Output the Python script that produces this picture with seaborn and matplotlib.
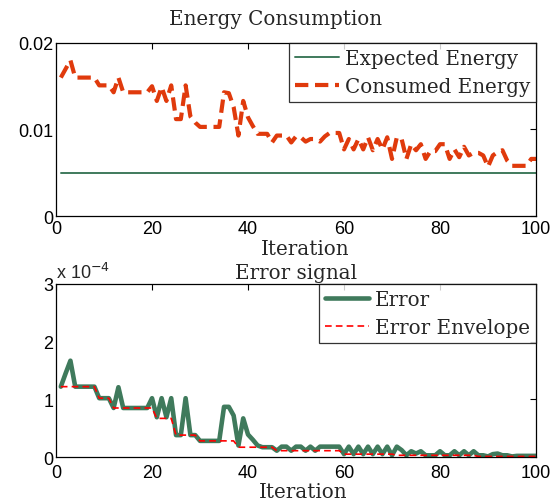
import numpy as np
import pandas as pd
import seaborn as sns
import matplotlib
matplotlib.use("Agg")
import matplotlib.pyplot as plt

iterations = list(range(1, 101))

expected_energy = [0.005] * 100

consumed_energy = [
    0.0160, 0.0170, 0.0180, 0.0160, 0.0160, 0.0160, 0.0160, 0.0160, 0.0151, 0.0151,
    0.0151, 0.0143, 0.0160, 0.0143, 0.0143, 0.0143, 0.0143, 0.0143, 0.0143, 0.0150,
    0.0133, 0.0149, 0.0133, 0.0151, 0.0112, 0.0112, 0.0151, 0.0115, 0.0108, 0.0103,
    0.0103, 0.0103, 0.0103, 0.0103, 0.0143, 0.0142, 0.0126, 0.0093, 0.0133, 0.0114,
    0.0104, 0.0095, 0.0095, 0.0095, 0.0085, 0.0093, 0.0093, 0.0093, 0.0085, 0.0092,
    0.0091, 0.0086, 0.0089, 0.0089, 0.0086, 0.0092, 0.0096, 0.0096, 0.0096, 0.0077,
    0.0089, 0.0077, 0.0089, 0.0077, 0.0091, 0.0076, 0.0089, 0.0077, 0.0091, 0.0066,
    0.0091, 0.0089, 0.0066, 0.0083, 0.0076, 0.0083, 0.0066, 0.0075, 0.0075, 0.0083,
    0.0083, 0.0066, 0.0077, 0.0068, 0.0080, 0.0070, 0.0073, 0.0073, 0.0070, 0.0057,
    0.0070, 0.0074, 0.0076, 0.0064, 0.0058, 0.0058, 0.0058, 0.0058, 0.0066, 0.0066,
]

# error values in units of 1e-4
error_x1e4 = [
    1.22, 1.45, 1.67, 1.22, 1.22, 1.22, 1.22, 1.22, 1.02, 1.02,
    1.02, 0.85, 1.21, 0.85, 0.85, 0.85, 0.85, 0.85, 0.85, 1.02,
    0.69, 1.02, 0.69, 1.02, 0.38, 0.38, 1.02, 0.38, 0.38, 0.28,
    0.28, 0.28, 0.28, 0.28, 0.87, 0.87, 0.72, 0.20, 0.67, 0.39,
    0.30, 0.20, 0.17, 0.17, 0.17, 0.11, 0.18, 0.18, 0.11, 0.18,
    0.18, 0.11, 0.18, 0.11, 0.18, 0.18, 0.18, 0.18, 0.18, 0.05,
    0.18, 0.05, 0.18, 0.05, 0.18, 0.05, 0.18, 0.05, 0.18, 0.03,
    0.18, 0.12, 0.03, 0.10, 0.06, 0.10, 0.03, 0.03, 0.03, 0.10,
    0.03, 0.03, 0.10, 0.03, 0.10, 0.03, 0.10, 0.03, 0.03, 0.01,
    0.05, 0.06, 0.03, 0.03, 0.01, 0.02, 0.02, 0.02, 0.02, 0.02,
]

envelope_x1e4 = (
    [1.22] * 8 + [1.02] * 3 + [0.85] * 9 + [0.67] * 4 + [0.38] * 5 +
    [0.28] * 8 + [0.17] * 8 + [0.11] * 14 + [0.05] * 11 + [0.03] * 17 + [0.01] * 13
)

energy_xticks = [0, 20, 40, 60, 80, 100]
energy_yticks = [0, 0.01, 0.02]
energy_yticklabels = ["0", "0.01", "0.02"]
error_yticks = [0, 1, 2, 3]

sns.set_style("white")
plt.rcParams["font.family"] = ["Liberation Sans", "DejaVu Sans"]

serif = "DejaVu Serif"
green = "#3f7a5c"
orange = "#e03a0c"
fs = 14.3

fig = plt.figure(figsize=(5.53, 5.02), dpi=100)
ax1 = fig.add_axes([0.1013, 0.5677, 0.8680, 0.3447])
ax2 = fig.add_axes([0.1013, 0.0876, 0.8680, 0.3447])

df1 = pd.DataFrame({"it": iterations, "exp": expected_energy, "con": consumed_energy})
sns.lineplot(data=df1, x="it", y="exp", ax=ax1, color=green, lw=1.4, label="Expected Energy")
sns.lineplot(data=df1, x="it", y="con", ax=ax1, color=orange, lw=3.0,
             label="Consumed Energy")
ax1.lines[1].set_linestyle((0, (3.2, 1.6)))

df2 = pd.DataFrame({"it": iterations, "err": error_x1e4, "env": envelope_x1e4})
sns.lineplot(data=df2, x="it", y="err", ax=ax2, color=green, lw=3.3, label="Error")
sns.lineplot(data=df2, x="it", y="env", ax=ax2, color="#ff0000", lw=1.2, label="Error Envelope")
ax2.lines[1].set_linestyle((0, (4, 2.5)))

for ax, xpad, lab_xy in ((ax1, 3, (0.52, -0.13)), (ax2, 5, (0.515, -0.145))):
    ax.set_xlim(0, 100)
    ax.set_xticks(energy_xticks)
    ax.tick_params(direction="in", length=4, width=0.8, top=True, right=True,
                   labelsize=13, pad=2, colors="black")
    ax.tick_params(axis="x", pad=xpad)
    for s in ax.spines.values():
        s.set_color("black")
        s.set_linewidth(0.9)
    ax.set_xlabel("Iteration", fontfamily=serif, fontsize=fs)
    ax.xaxis.set_label_coords(*lab_xy)
    ax.set_ylabel("")

ax1.set_ylim(0, 0.02)
ax1.set_yticks(energy_yticks)
ax1.set_yticklabels(energy_yticklabels)
ax1.set_title("Energy Consumption", fontfamily=serif, fontsize=fs, pad=14, x=0.458)

ax2.set_ylim(0, 3)
ax2.set_yticks(error_yticks)
ax2.set_title("Error signal", fontfamily=serif, fontsize=fs, pad=4)
ax2.text(0.0, 1.012, r"x 10$^{-4}$", transform=ax2.transAxes, fontsize=13,
         ha="left", va="bottom")

for ax in (ax1, ax2):
    leg = ax.legend(loc="upper right", frameon=True, fancybox=False,
                    prop={"family": serif, "size": fs}, borderaxespad=0,
                    handlelength=2.2, handletextpad=0.3, borderpad=0.3,
                    labelspacing=0.45)
    leg.get_frame().set_edgecolor("black")
    leg.get_frame().set_linewidth(0.9)

fig.savefig("out.png", dpi=100)
